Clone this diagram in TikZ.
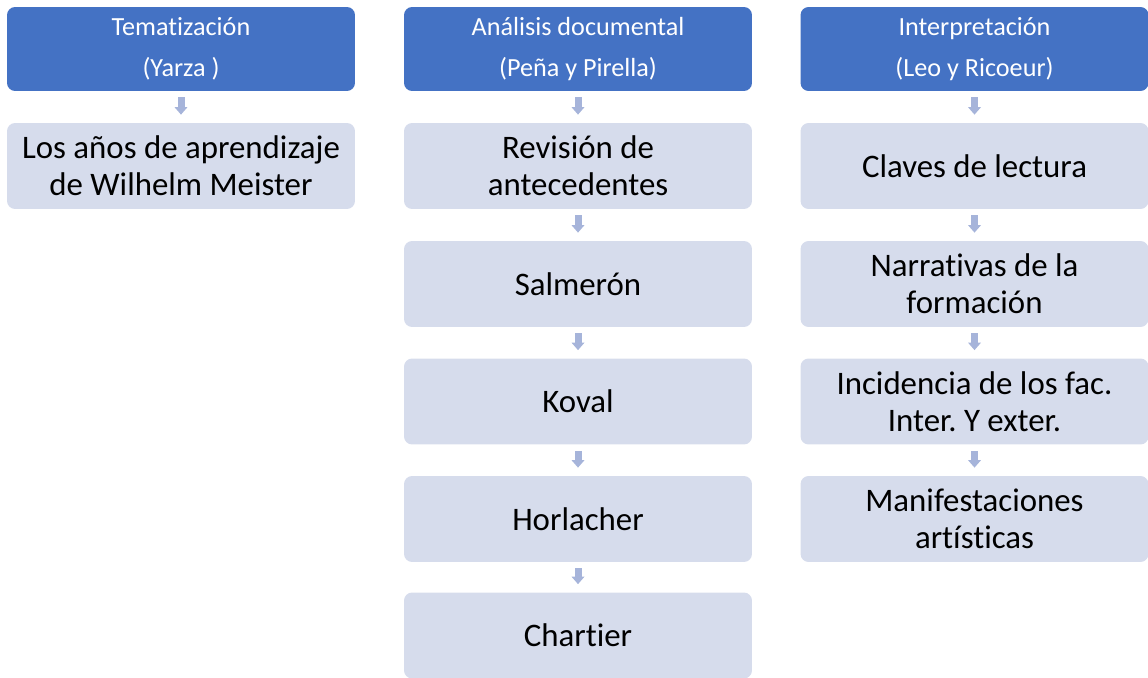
\documentclass[tikz,border=0pt]{standalone}
\usepackage{fontspec}
\setmainfont{Carlito}[Ligatures=NoCommon]
\frenchspacing
\usetikzlibrary{arrows.meta}
\definecolor{headblue}{RGB}{68,114,196}
\definecolor{stepfill}{RGB}{214,220,236}
\definecolor{arrowblue}{RGB}{166,180,218}
\tikzset{
  headbox/.style={fill=headblue, rounded corners=0.16cm, minimum width=6.96cm, minimum height=1.68cm, text=white, align=center, font=\fontsize{14.9}{23}\selectfont},
  stepbox/.style={fill=stepfill, rounded corners=0.16cm, minimum width=6.96cm, minimum height=1.72cm, text=black, align=center, font=\fontsize{18.7}{21}\selectfont},
  flow/.style={arrowblue, line width=0.14cm, -{Triangle[width=0.25cm,length=0.15cm]}, shorten <=0.12cm, shorten >=0.16cm}
}
\begin{document}
\begin{tikzpicture}[x=0.02cm,y=-0.02cm]
    \useasboundingbox (0,0) rectangle (1148,678);
    % Tematizacion
    \node[headbox] (tema) at (181,49) {Tematización\\(Yarza )};
    \node[stepbox] (wilhelm) at (181,166) {Los años de aprendizaje\\de Wilhelm Meister};
    \draw[flow] (tema) -- (wilhelm);
    % Analisis documental
    \node[headbox] (analisis) at (578,49) {Análisis documental\\(Peña y Pirella)};
    \node[stepbox] (revision) at (578,166) {Revisión de\\antecedentes};
    \node[stepbox] (salmeron) at (578,284) {Salmerón};
    \node[stepbox] (koval) at (578,401.5) {Koval};
    \node[stepbox] (horlacher) at (578,519) {Horlacher};
    \node[stepbox] (chartier) at (578,635.5) {Chartier};
    \draw[flow] (analisis) -- (revision);
    \draw[flow] (revision) -- (salmeron);
    \draw[flow] (salmeron) -- (koval);
    \draw[flow] (koval) -- (horlacher);
    \draw[flow] (horlacher) -- (chartier);
    % Interpretacion
    \node[headbox] (interp) at (974.5,49) {Interpretación\\(Leo y Ricoeur)};
    \node[stepbox] (claves) at (974.5,166) {Claves de lectura};
    \node[stepbox] (narrativas) at (974.5,284) {Narrativas de la\\formación};
    \node[stepbox] (incidencia) at (974.5,401.5) {Incidencia de los fac.\\Inter. Y exter.};
    \node[stepbox] (manif) at (974.5,519) {Manifestaciones\\artísticas};
    \draw[flow] (interp) -- (claves);
    \draw[flow] (claves) -- (narrativas);
    \draw[flow] (narrativas) -- (incidencia);
    \draw[flow] (incidencia) -- (manif);
\end{tikzpicture}
\end{document}
